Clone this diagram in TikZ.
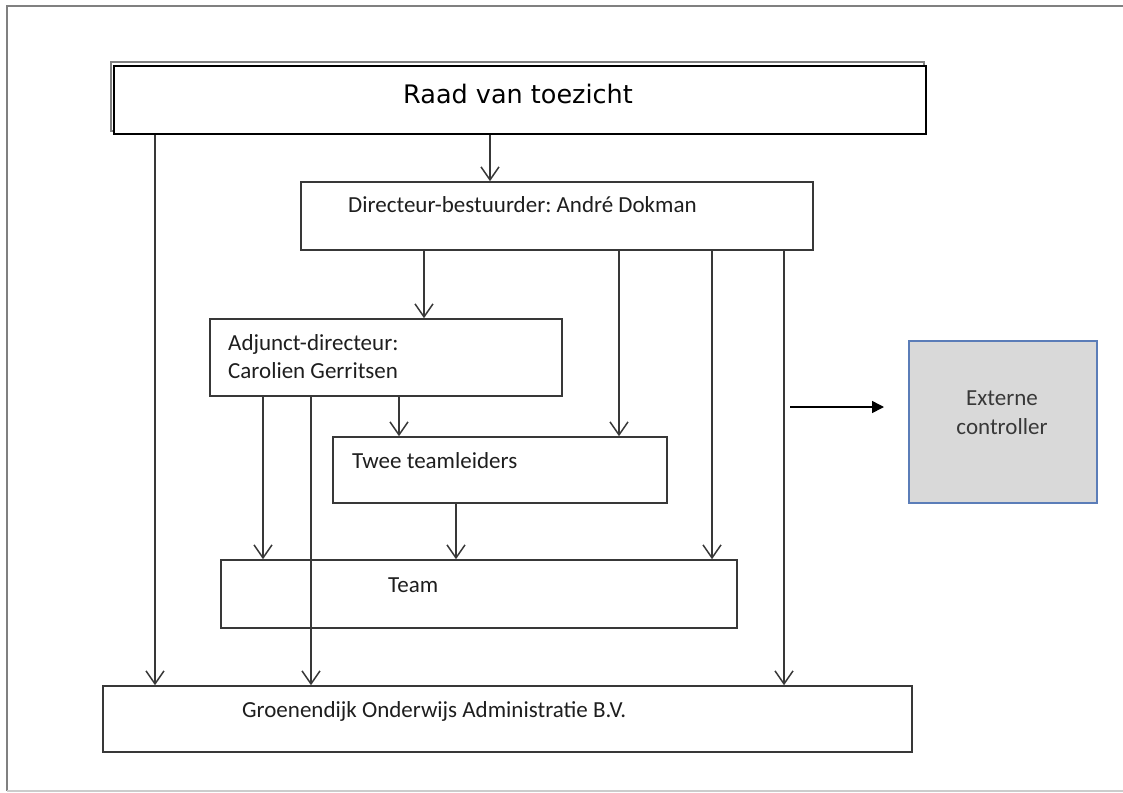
\documentclass[tikz,border=0pt]{standalone}
\usepackage{fontspec}
\setmainfont{Carlito}
\newfontfamily\verd{DejaVu Sans}
\usetikzlibrary{arrows.meta}
\definecolor{boxline}{HTML}{383838}
\definecolor{txt}{HTML}{1E1E1E}
\definecolor{extfill}{HTML}{D9D9D9}
\definecolor{extline}{HTML}{5B7DB8}
\frenchspacing
\begin{document}
\begin{tikzpicture}[x=1pt,y=-1pt,
  box/.style={draw=boxline,line width=1.6pt,inner sep=0pt,minimum width=#1},
  lbl/.style={anchor=base west,inner sep=0pt,text=txt,font=\fontsize{23}{28}\selectfont},
  arr/.style={draw=boxline,line width=1.5pt,-{Straight Barb[length=13pt,width=18pt,line width=1.5pt]}},
  farr/.style={draw=black,line width=1.5pt,-{Triangle[length=12pt,width=12pt]}}]
\useasboundingbox (0,0) rectangle (1123,792);
% outer frame
\draw[gray,line width=1.5pt] (1123,6) -- (7,6) -- (7,791);
\draw[black!20,line width=1.2pt] (7,791) -- (1123,791);
% boxes
\node[box=813pt,minimum height=69pt,draw=gray,line width=2pt] (raadsh) at (517.5,96.5) {};
\node[box=812pt,minimum height=68pt,draw=black,fill=white,line width=2.2pt] (raad) at (520,100) {};
\node[box=512pt,minimum height=68pt] (dir) at (557,216) {};
\node[box=352pt,minimum height=77pt] (adj) at (386,357.5) {};
\node[box=334pt,minimum height=66pt] (twee) at (500,470) {};
\node[box=516pt,minimum height=68pt] (team) at (479,594) {};
\node[box=809pt,minimum height=66pt] (groen) at (507.5,719) {};
\node[box=188pt,minimum height=162pt,draw=extline,fill=extfill] (ext) at (1003,422) {};
% texts
\node[anchor=base west,inner sep=0pt,font=\verd\fontsize{25.5}{30}\selectfont] (raadt) at (403,103) {Raad van toezicht};
\node[lbl] (dirt) at (348,212) {Directeur-bestuurder: André Dokman};
\node[lbl] (adjt1) at (228,350) {Adjunct-directeur:};
\node[lbl] (adjt2) at (228,378) {Carolien Gerritsen};
\node[lbl] (tweet) at (352,468) {Twee teamleiders};
\node[lbl] (teamt) at (388,592) {Team};
\node[lbl] (groent) at (242,717) {Groenendijk Onderwijs Administratie B.V.};
\node[text=boxline,align=center,inner sep=0pt,font=\fontsize{23}{29}\selectfont] (extt) at (1002,413) {Externe\\controller};
% connectors
\draw[arr] (raad.south -| 155,0) -- (groen.north -| 155,0);
\draw[arr] (raad.south -| 490,0) -- (dir.north -| 490,0);
\draw[arr] (dir.south -| 424,0) -- (adj.north -| 424,0);
\draw[arr] (dir.south -| 619,0) -- (twee.north -| 619,0);
\draw[arr] (dir.south -| 712,0) -- (team.north -| 712,0);
\draw[arr] (dir.south -| 784,0) -- (groen.north -| 784,0);
\draw[arr] (adj.south -| 263,0) -- (team.north -| 263,0);
\draw[arr] (adj.south -| 311,0) -- (groen.north -| 311,0);
\draw[arr] (adj.south -| 399,0) -- (twee.north -| 399,0);
\draw[arr] (twee.south -| 456,0) -- (team.north -| 456,0);
\coordinate (xs) at (790,407);
\coordinate (xe) at (884,407);
\draw[farr] (xs) -- (xe);
\end{tikzpicture}
\end{document}
